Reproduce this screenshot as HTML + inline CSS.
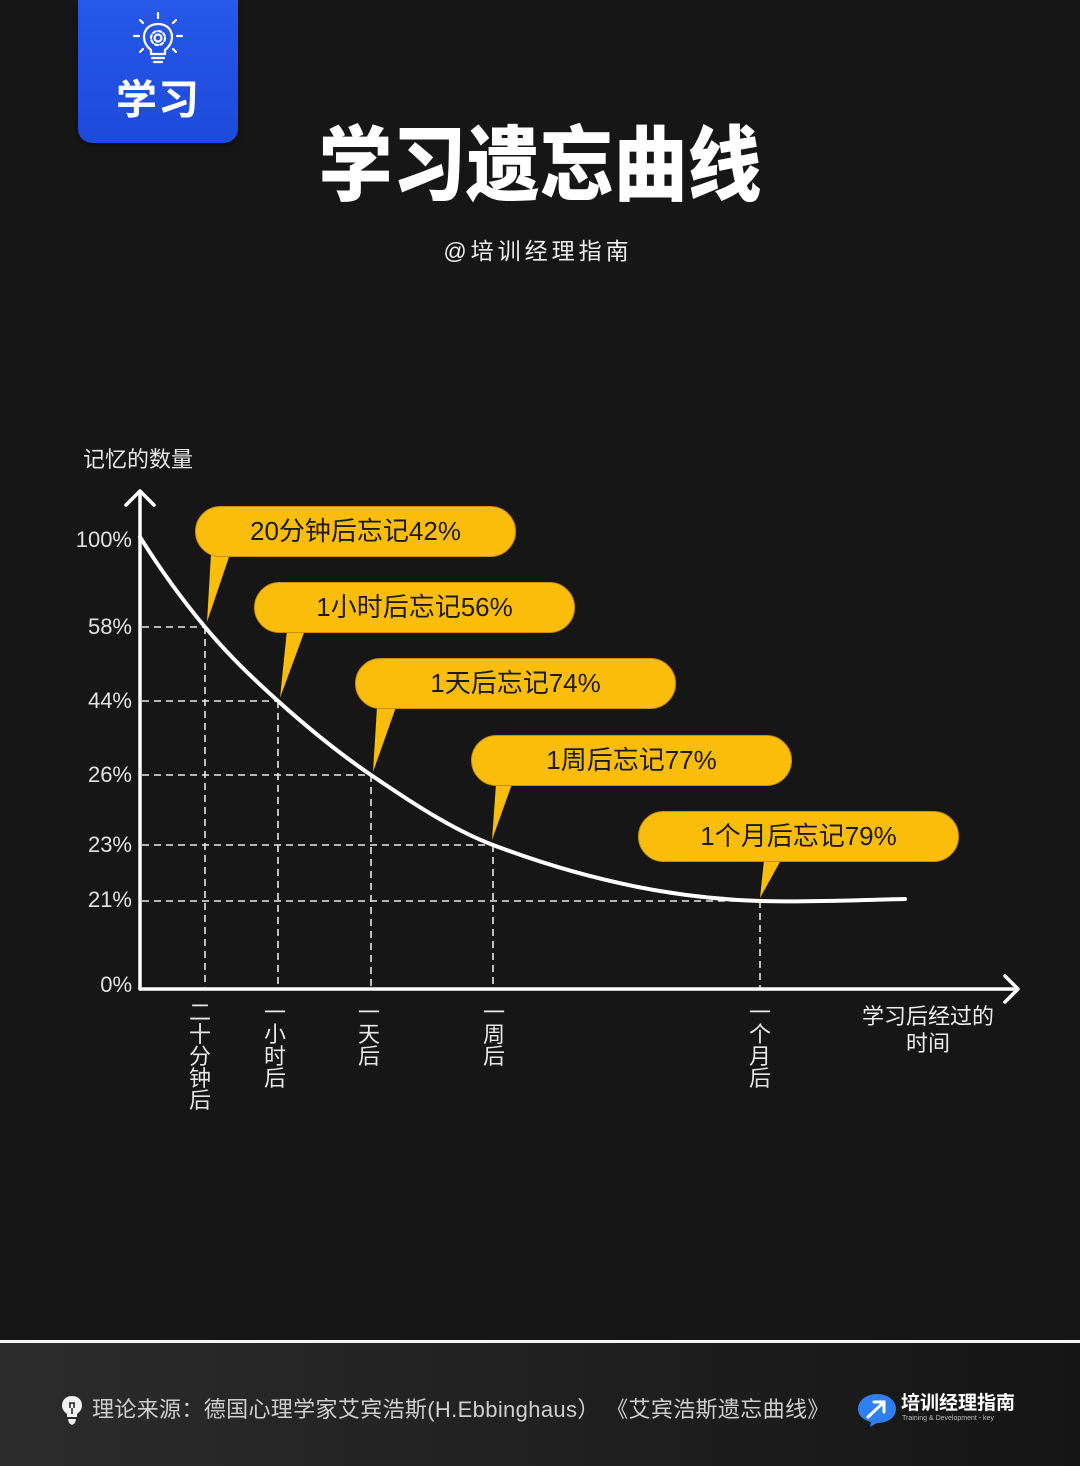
<!DOCTYPE html>
<html><head><meta charset="utf-8"><style>
html,body{margin:0;padding:0;}
body{width:1080px;height:1466px;background:#161616;position:relative;overflow:hidden;font-family:"Liberation Sans","Noto Sans CJK SC",sans-serif;}
.abs{position:absolute;}
.badge{left:78px;top:0;width:160px;height:143px;background:linear-gradient(180deg,#2758ea,#1d4ad9);border-radius:0 0 14px 14px;box-shadow:0 2px 6px rgba(0,0,0,.5);}
.badge .t{position:absolute;left:0;width:160px;top:72px;text-align:center;color:#fff;font-size:41px;font-weight:700;line-height:56px;letter-spacing:1px;}
.title{left:0;width:1080px;top:112px;text-align:center;color:#fff;font-size:82px;font-weight:900;line-height:110px;}
.title span{display:inline-block;transform:scaleX(0.9);}
.sub{left:0;width:1080px;top:236px;text-align:center;color:#eee;font-size:23px;line-height:30px;letter-spacing:4px;padding-right:4px;box-sizing:border-box;}
.ylab{color:#e2e2e2;font-size:22px;width:80px;text-align:right;left:52px;line-height:26px;}
.pill{height:51px;width:321px;border-radius:26px;background:#fbbd0c;box-sizing:border-box;border:1.5px solid #c8900a;color:#1b1b1b;font-size:26px;line-height:48px;text-align:center;}
.vt{color:#e8e8e8;font-size:22px;line-height:22px;width:24px;text-align:center;}
.foot{left:0;top:1343px;width:1080px;height:123px;background:linear-gradient(90deg,#2c2c2c,#1e1e1e 60%,#151515);}
</style></head><body>

<div class="abs badge">
<svg class="abs" style="left:0;top:0" width="160" height="70" viewBox="0 0 160 70">
 <g stroke="#fff" stroke-width="2.2" fill="none" stroke-linecap="round">
  <line x1="80" y1="13" x2="80" y2="18"/>
  <line x1="62" y1="20" x2="65" y2="23"/>
  <line x1="98" y1="20" x2="95" y2="23"/>
  <line x1="56" y1="36" x2="61" y2="36"/>
  <line x1="104" y1="36" x2="99" y2="36"/>
  <line x1="62" y1="52" x2="65" y2="49"/>
  <line x1="98" y1="52" x2="95" y2="49"/>
  <path d="M73,50 C68,46 66,42 66,37 C66,29 72,24 80,24 C88,24 94,29 94,37 C94,42 92,46 87,50 L87,54 L73,54 Z"/>
  <line x1="74" y1="58" x2="86" y2="58"/>
  <line x1="76" y1="62" x2="84" y2="62"/>
  <circle cx="80" cy="38" r="3.5"/>
  <circle cx="80" cy="38" r="7" stroke-dasharray="3 2.5"/>
 </g>
</svg>
<div class="t">学习</div>
</div>

<div class="abs title"><span>学习遗忘曲线</span></div>
<div class="abs sub">@培训经理指南</div>

<div class="abs" style="left:83px;top:446px;color:#e8e8e8;font-size:22px;line-height:28px;">记忆的数量</div>

<div class="abs ylab" style="top:527px">100%</div>
<div class="abs ylab" style="top:614px">58%</div>
<div class="abs ylab" style="top:688px">44%</div>
<div class="abs ylab" style="top:762px">26%</div>
<div class="abs ylab" style="top:832px">23%</div>
<div class="abs ylab" style="top:887px">21%</div>
<div class="abs ylab" style="top:972px">0%</div>

<svg class="abs" style="left:0;top:0" width="1080" height="1340" viewBox="0 0 1080 1340">
 <g stroke="#e8e8e8" stroke-width="1.6" stroke-dasharray="7 5" fill="none">
  <line x1="142" y1="627" x2="205" y2="627"/>
  <line x1="142" y1="701" x2="278" y2="701"/>
  <line x1="142" y1="775" x2="371" y2="775"/>
  <line x1="142" y1="845" x2="493" y2="845"/>
  <line x1="142" y1="901" x2="760" y2="901"/>
  <line x1="205" y1="627" x2="205" y2="988"/>
  <line x1="278" y1="701" x2="278" y2="988"/>
  <line x1="371" y1="775" x2="371" y2="988"/>
  <line x1="493" y1="845" x2="493" y2="988"/>
  <line x1="760" y1="901" x2="760" y2="988"/>
 </g>
 <path d="M140,537 C161.7,571.7 183.3,601 205,627 C229.3,656.2 253.7,679.1 278,701 C309,728.9 340,753.9 371,775 C411.7,802.7 452.3,829.5 493,845 C582,878.8 671,898.3 760,901 C808,902.4 857,900 905,899" stroke="#fff" stroke-width="4" fill="none" stroke-linecap="round"/>
 <g stroke="#fff" stroke-width="3.5" fill="none" stroke-linecap="round" stroke-linejoin="round">
  <line x1="140" y1="493" x2="140" y2="989"/>
  <line x1="140" y1="989" x2="1016" y2="989"/>
  <polyline points="126,505 140,491 154,505"/>
  <polyline points="1005,976 1018,989 1005,1002"/>
 </g>
 <g fill="#fbbd0c">
  <polygon points="211,554 230,554 207,622"/>
  <polygon points="287,630 305,630 280,698"/>
  <polygon points="377,707 396,707 373,772"/>
  <polygon points="496,784 512,784 492,840"/>
  <polygon points="764,860 781,860 760,898"/>
 </g>
</svg>

<div class="abs pill" style="left:195px;top:506px">20分钟后忘记42%</div>
<div class="abs pill" style="left:254px;top:582px">1小时后忘记56%</div>
<div class="abs pill" style="left:355px;top:658px">1天后忘记74%</div>
<div class="abs pill" style="left:471px;top:735px">1周后忘记77%</div>
<div class="abs pill" style="left:638px;top:811px">1个月后忘记79%</div>

<div class="abs vt" style="left:188px;top:1002px">二<br>十<br>分<br>钟<br>后</div>
<div class="abs vt" style="left:263px;top:1002px">一<br>小<br>时<br>后</div>
<div class="abs vt" style="left:357px;top:1002px">一<br>天<br>后</div>
<div class="abs vt" style="left:482px;top:1002px">一<br>周<br>后</div>
<div class="abs vt" style="left:748px;top:1002px">一<br>个<br>月<br>后</div>

<div class="abs" style="left:850px;top:1003px;width:156px;text-align:center;color:#eee;font-size:22px;line-height:27px;">学习后经过的<br>时间</div>

<div class="abs" style="left:0;top:1340px;width:1080px;height:3px;background:#f4f4f4"></div>
<div class="abs foot"></div>

<svg class="abs" style="left:60px;top:1395px" width="24" height="32" viewBox="0 0 24 32">
 <path d="M12,1 C5.5,1 2,5.5 2,10.5 C2,14.5 4.5,17 7,19 L7,22 L17,22 L17,19 C19.5,17 22,14.5 22,10.5 C22,5.5 18.5,1 12,1 Z" fill="#f2f2f2"/>
 <path d="M8,24 L16,24 L15,28 L12,30 L9,28 Z" fill="#f2f2f2"/>
 <path d="M9,8 L15,8 M10,8 L10,13 M14,8 L14,13 M12,13 L12,19" stroke="#2a2a2a" stroke-width="1.6" fill="none"/>
</svg>
<div class="abs" style="left:92px;top:1396px;color:#cfcfcf;font-size:22px;line-height:28px;white-space:nowrap;letter-spacing:0.35px;">理论来源：德国心理学家艾宾浩斯(H.Ebbinghaus）&nbsp;《艾宾浩斯遗忘曲线》</div>

<svg class="abs" style="left:856px;top:1392px" width="44" height="36" viewBox="0 0 44 36">
 <path d="M21,2 C31,2 40,8 40,17 C40,26 31,31 21,31 L14,35 L15,30 C7,28 2,23 2,17 C2,8 11,2 21,2 Z" fill="#2f7ff0"/>
 <path d="M12,25 L28,10 M18,10 L28,10 L28,20" stroke="#fff" stroke-width="3" fill="none" stroke-linecap="round"/>
</svg>
<div class="abs" style="left:901px;top:1393px;color:#fff;font-size:19px;font-weight:700;line-height:22px;white-space:nowrap;">培训经理指南</div>
<div class="abs" style="left:902px;top:1414px;color:#bbb;font-size:7px;line-height:9px;white-space:nowrap;">Training &amp; Development - key</div>

</body></html>
